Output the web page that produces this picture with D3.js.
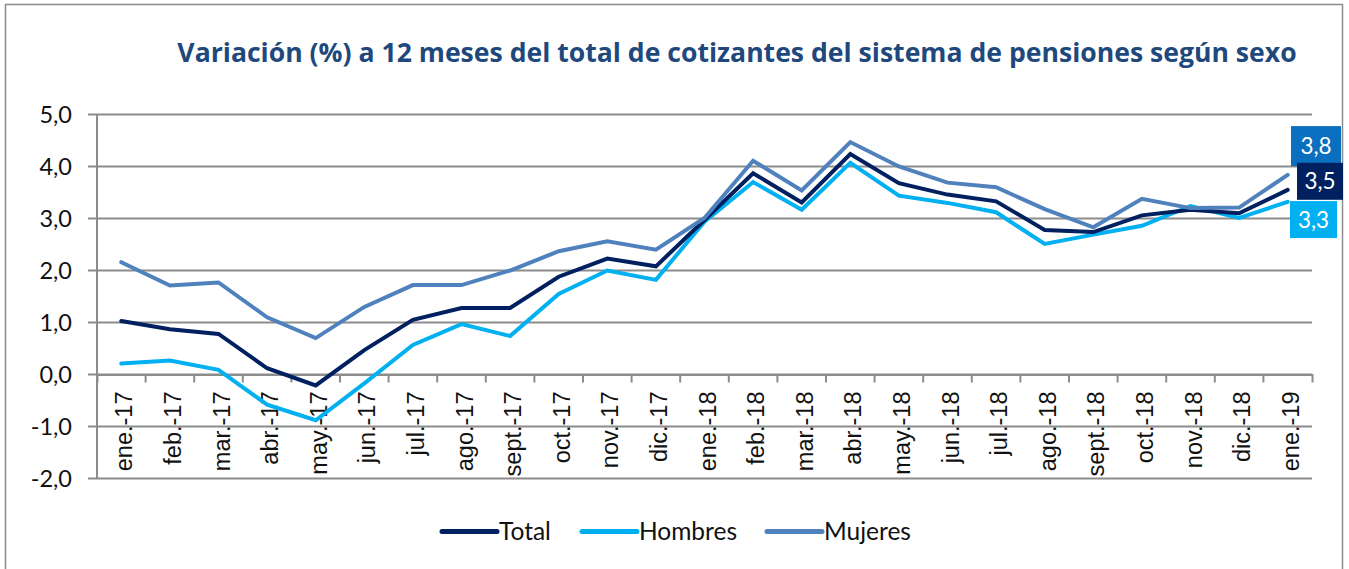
<!DOCTYPE html>
<html>
<head>
<meta charset="utf-8">
<script src="https://cdn.jsdelivr.net/npm/d3@7"></script>
<style>
  body { margin: 0; background: #fff; }
  svg { display: block; }
</style>
</head>
<body>
<svg id="chart" width="1349" height="569"></svg>
<script>
// datos
var meses = ["ene.-17", "feb.-17", "mar.-17", "abr.-17", "may.-17", "jun.-17", "jul.-17", "ago.-17", "sept.-17", "oct.-17", "nov.-17", "dic.-17",
    "ene.-18", "feb.-18", "mar.-18", "abr.-18", "may.-18", "jun.-18", "jul.-18", "ago.-18", "sept.-18", "oct.-18", "nov.-18", "dic.-18", "ene.-19"];
var total = [1.03, 0.87, 0.78, 0.12, -0.21, 0.47, 1.05, 1.28, 1.28, 1.88, 2.23, 2.08,
    2.97, 3.87, 3.31, 4.24, 3.68, 3.46, 3.33, 2.78, 2.74, 3.06, 3.17, 3.10, 3.55];
var hombres = [0.21, 0.27, 0.09, -0.58, -0.88, -0.17, 0.57, 0.97, 0.74, 1.55, 2.00, 1.82,
    2.94, 3.70, 3.17, 4.07, 3.44, 3.30, 3.12, 2.51, 2.69, 2.86, 3.24, 3.01, 3.32];
var mujeres = [2.16, 1.71, 1.77, 1.10, 0.70, 1.30, 1.72, 1.72, 2.00, 2.37, 2.56, 2.40,
    3.01, 4.11, 3.54, 4.47, 4.00, 3.69, 3.60, 3.18, 2.83, 3.38, 3.20, 3.21, 3.84];
var yTicks = [-2, -1, 0, 1, 2, 3, 4, 5];
var etiquetasFin = ["3,5", "3,3", "3,8"];

var series = [
    { name: "Total", values: total, color: "#002060", label: etiquetasFin[0] },
    { name: "Hombres", values: hombres, color: "#00B0F0", label: etiquetasFin[1] },
    { name: "Mujeres", values: mujeres, color: "#4F81BD", label: etiquetasFin[2] }
];

var svg = d3.select("#chart");
var fmt = function (d) { return d.toFixed(1).replace(".", ","); };
var grid = "#8c8c8c";

// marco
svg.append("rect")
    .attr("x", 5.5).attr("y", 4.5)
    .attr("width", 1337).attr("height", 580)
    .attr("fill", "none").attr("stroke", "#8c8c8c").attr("stroke-width", 1.5);

// titulo
svg.append("text")
    .attr("x", 737).attr("y", 62)
    .attr("text-anchor", "middle")
    .style("font-family", "'Open Sans', sans-serif")
    .style("font-weight", "bold")
    .style("font-size", "26.6px")
    .attr("fill", "#1F497D")
    .text("Variación (%) a 12 meses del total de cotizantes del sistema de pensiones según sexo");

var x = d3.scaleBand().domain(meses).range([97, 1312]);
var y = d3.scaleLinear().domain([-2, 5]).range([478.5, 114.5]);

// lineas de grilla
svg.append("g")
    .selectAll("line").data(yTicks).enter().append("line")
    .attr("x1", 88).attr("x2", 1312)
    .attr("y1", function (d) { return y(d); })
    .attr("y2", function (d) { return y(d); })
    .attr("stroke", grid).attr("stroke-width", 2);

// eje y
svg.append("line")
    .attr("x1", 97).attr("x2", 97)
    .attr("y1", y(5)).attr("y2", y(-2))
    .attr("stroke", grid).attr("stroke-width", 2);

svg.append("g")
    .selectAll("text").data(yTicks).enter().append("text")
    .attr("x", 72)
    .attr("y", function (d) { return y(d) + 8; })
    .attr("text-anchor", "end")
    .style("font-family", "Lato, sans-serif")
    .style("font-size", "23.5px")
    .attr("fill", "#111")
    .text(fmt);

// eje x en 0
var xAxis = d3.axisBottom(x).tickSize(8).tickSizeOuter(8).tickFormat("");
var gx = svg.append("g")
    .attr("transform", "translate(0," + y(0) + ")")
    .call(xAxis);
gx.select(".domain").attr("stroke", grid).attr("stroke-width", 2);
gx.selectAll(".tick line")
    .attr("stroke", grid).attr("stroke-width", 2)
    .attr("transform", "translate(" + (-x.bandwidth() / 2) + ",0)");
gx.selectAll(".tick").filter(function (d, i) { return i === 0; }).remove();

svg.append("g")
    .selectAll("text").data(meses).enter().append("text")
    .attr("transform", function (d) {
        return "translate(" + (x(d) + x.bandwidth() / 2 + 11) + "," + (y(0) + 17) + ") rotate(-90)";
    })
    .attr("text-anchor", "end")
    .style("font-family", "'Liberation Sans', Arial, sans-serif")
    .style("font-size", "23.5px")
    .attr("fill", "#111")
    .text(function (d) { return d; });

// lineas
var line = d3.line()
    .x(function (d, i) { return x(meses[i]) + x.bandwidth() / 2; })
    .y(function (d) { return y(d); });

var orden = [1, 0, 2];
orden.forEach(function (k) {
    var s = series[k];
    svg.append("path")
        .datum(s.values)
        .attr("d", line)
        .attr("fill", "none")
        .attr("stroke", s.color)
        .attr("stroke-width", 4)
        .attr("stroke-linejoin", "miter")
        .attr("stroke-linecap", "round");
});

// etiquetas finales
var cajas = [
    { s: series[2], color: "#0A6FBF", x: 1291, w: 50, h: 40, dy: -28.7 },
    { s: series[0], color: "#002060", x: 1297, w: 46, h: 37, dy: -8.6 },
    { s: series[1], color: "#00B0F0", x: 1290, w: 47, h: 37, dy: 17.7 }
];
cajas.forEach(function (c) {
    var last = c.s.values[c.s.values.length - 1];
    var cy = y(last) + c.dy;
    svg.append("rect")
        .attr("x", c.x).attr("y", cy - c.h / 2)
        .attr("width", c.w).attr("height", c.h)
        .attr("fill", c.color);
    svg.append("text")
        .attr("x", c.x + c.w / 2).attr("y", cy + 8)
        .attr("text-anchor", "middle")
        .style("font-family", "Lato, sans-serif")
        .style("font-size", "22.5px")
        .attr("fill", "#fff")
        .text(c.s.label);
});

// leyenda
var leyX = [442, 582, 767];
var ley = svg.append("g");
series.forEach(function (s, i) {
    ley.append("line")
        .attr("x1", leyX[i]).attr("x2", leyX[i] + 55)
        .attr("y1", 531.5).attr("y2", 531.5)
        .attr("stroke", s.color).attr("stroke-width", 5)
        .attr("stroke-linecap", "round");
    ley.append("text")
        .attr("x", leyX[i] + 57).attr("y", 540)
        .style("font-family", "Lato, sans-serif")
        .style("font-size", "24.5px")
        .attr("fill", "#111")
        .text(s.name);
});
</script>
</body>
</html>
